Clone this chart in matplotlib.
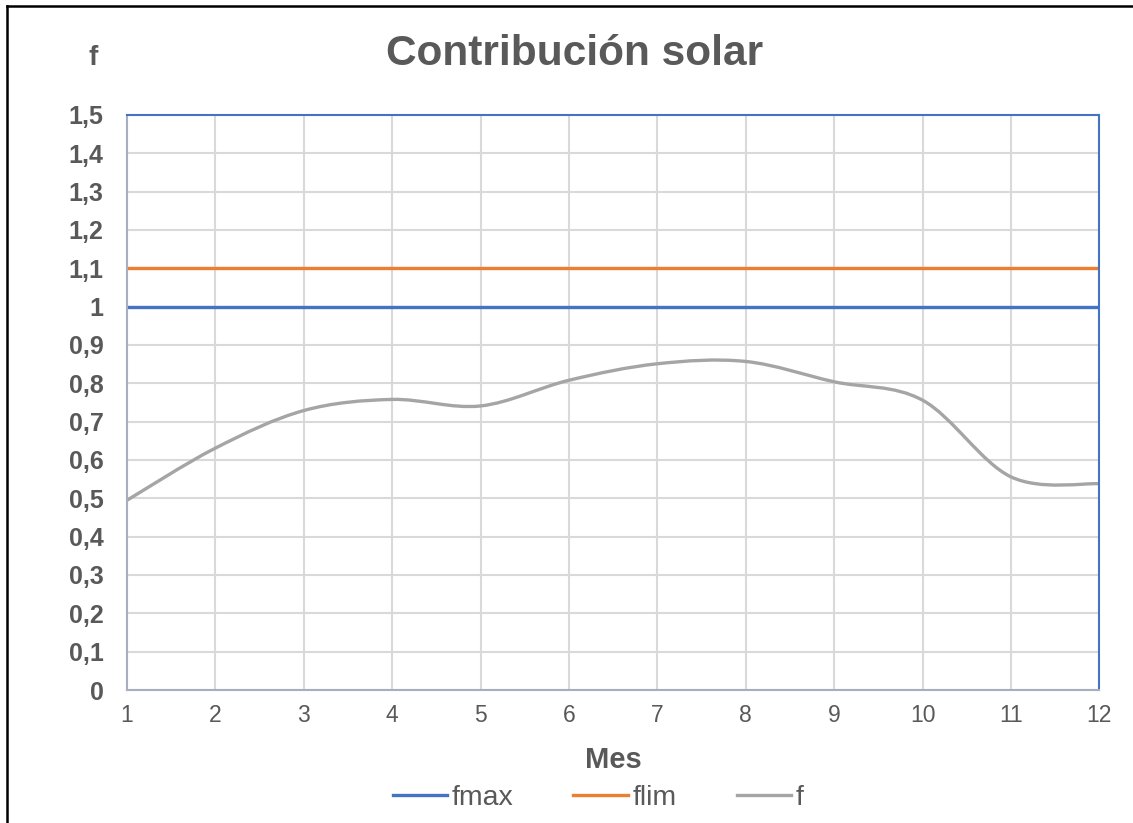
#!/usr/bin/env python3

import numpy as np
import matplotlib
matplotlib.use('Agg')
import matplotlib.pyplot as plt
from matplotlib.path import Path
from matplotlib.patches import PathPatch
from matplotlib.lines import Line2D

plt.rcParams['font.family'] = ['Liberation Sans', 'DejaVu Sans']

meses = [1, 2, 3, 4, 5, 6, 7, 8, 9, 10, 11, 12]
fmax = [1.0] * 12
flim = [1.1] * 12
f = [0.495, 0.631, 0.729, 0.758, 0.741, 0.808, 0.851, 0.857, 0.804, 0.756, 0.556, 0.538]

y_ticks = [0, 0.1, 0.2, 0.3, 0.4, 0.5, 0.6, 0.7, 0.8, 0.9, 1.0, 1.1, 1.2, 1.3, 1.4, 1.5]
y_labels = ['0', '0,1', '0,2', '0,3', '0,4', '0,5', '0,6', '0,7', '0,8', '0,9',
            '1', '1,1', '1,2', '1,3', '1,4', '1,5']

azul = '#4472C4'
naranja = '#ED7D31'
gris = '#A5A5A5'
texto = '#595959'


def smooth_path(x, y):
    # bezier curve through the points, like a spreadsheet "smoothed line"
    x = np.asarray(x, float)
    y = np.asarray(y, float)
    verts = [(x[0], y[0])]
    codes = [Path.MOVETO]
    n = len(x)
    for i in range(n - 1):
        i0 = max(i - 1, 0)
        i3 = min(i + 2, n - 1)
        c1 = (x[i] + (x[i + 1] - x[i0]) / 6, y[i] + (y[i + 1] - y[i0]) / 6)
        c2 = (x[i + 1] - (x[i3] - x[i]) / 6, y[i + 1] - (y[i3] - y[i]) / 6)
        verts += [c1, c2, (x[i + 1], y[i + 1])]
        codes += [Path.CURVE4] * 3
    return Path(verts, codes)


fig = plt.figure(figsize=(11.33, 8.23), dpi=100, facecolor='white')
ax = fig.add_axes([0.1121, 0.1616, 0.8582, 0.6987])

ax.set_xlim(1, 12)
ax.set_ylim(0, 1.5)
ax.set_xticks(meses)
ax.set_xticklabels([str(m) for m in meses], fontsize=16.5, color=texto)
ax.set_yticks(y_ticks)
ax.set_yticklabels(y_labels, fontsize=18, color=texto, fontweight='bold')
ax.tick_params(length=0, pad=10)
ax.tick_params(axis='y', pad=17)
ax.grid(True, color='#D9D9D9', linewidth=1.5)
ax.set_axisbelow(True)

for side in ['left', 'bottom']:
    ax.spines[side].set_color('#A6AEC0')
    ax.spines[side].set_linewidth(1.5)
for side in ['top', 'right']:
    ax.spines[side].set_color(azul)
    ax.spines[side].set_linewidth(1.5)

ax.plot(meses, fmax, color=azul, linewidth=2.4, solid_capstyle='butt', label='fmax')
ax.plot(meses, flim, color=naranja, linewidth=2.4, solid_capstyle='butt', label='flim')
ax.add_patch(PathPatch(smooth_path(meses, f), facecolor='none', edgecolor=gris,
                       linewidth=2.4, clip_on=False))

fig.text(0.5075, 0.934, 'Contribución solar', fontsize=30.5, fontweight='bold',
         color=texto, ha='center', va='center')
fig.text(0.082, 0.930, 'f', fontsize=20, fontweight='bold', color=texto,
         ha='center', va='center')
ax.set_xlabel('Mes', fontsize=21, fontweight='bold', color=texto, labelpad=14)

handles = [Line2D([], [], color=azul, linewidth=2.4),
           Line2D([], [], color=naranja, linewidth=2.4),
           Line2D([], [], color=gris, linewidth=2.4)]
fig.legend(handles, ['fmax', 'flim', 'f'], loc='center', bbox_to_anchor=(0.528, 0.030),
           ncol=3, frameon=False, fontsize=20.5, handlelength=1.9, handletextpad=0.18,
           columnspacing=2.1, labelcolor=texto)

# outer chart frame (only top and left edges fall inside the image)
fig.add_artist(Line2D([0.0066, 0.0066], [0, 0.9925], color='black', linewidth=1.8,
                      transform=fig.transFigure))
fig.add_artist(Line2D([0.0066, 1.0], [0.9925, 0.9925], color='black', linewidth=1.8,
                      transform=fig.transFigure))

fig.savefig('out.png', dpi=100, facecolor=fig.get_facecolor())
